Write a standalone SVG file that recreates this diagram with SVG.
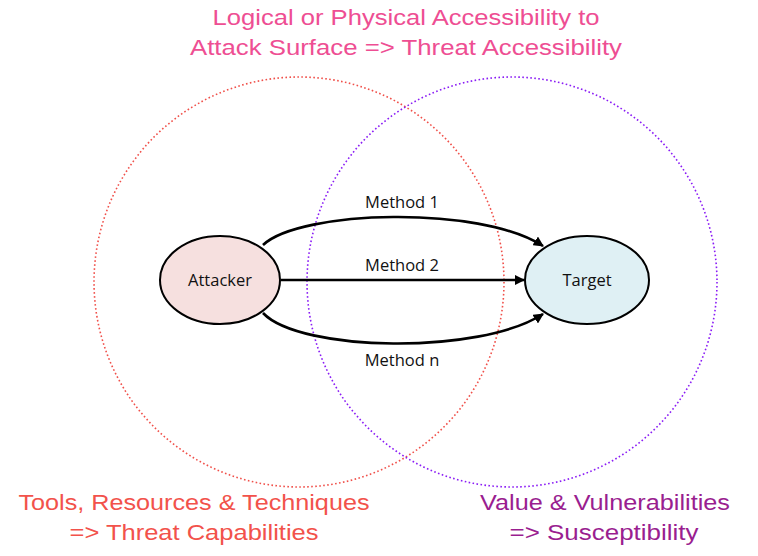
<svg xmlns="http://www.w3.org/2000/svg" width="758" height="556" viewBox="0 0 758 556">
<style>
.circ{fill:none;stroke-width:1.6;stroke-dasharray:1.6 2.4}
.node{stroke:#000;stroke-width:2}
.ntext{font-family:"Open Sans","Liberation Sans",sans-serif;font-size:16.5px;fill:#111;text-anchor:middle}
.edge{fill:none;stroke:#000;stroke-width:2.6}
.big{font-family:"Liberation Sans",Arial,sans-serif;font-size:22px;text-anchor:middle;font-variant-ligatures:none}
</style>
<defs>
<marker id="arr" viewBox="0 0 10 10" refX="9" refY="5" markerWidth="4" markerHeight="4" orient="auto" markerUnits="strokeWidth">
<path d="M0,0 L10,5 L0,10 z" fill="#000"/>
</marker>
</defs>
<rect width="758" height="556" fill="#fff"/>
<g id="circles">
<circle cx="299" cy="282" r="205" class="circ" stroke="#F0504A"/>
<circle cx="512" cy="282" r="205" class="circ" stroke="#8A1CF5"/>
</g>
<g id="connectors">
<path class="edge" d="M263,245 C300,210 480,205 543,246" marker-end="url(#arr)"/>
<path class="edge" d="M281,280 L524,280" marker-end="url(#arr)"/>
<path class="edge" d="M263,313 C300,352 480,355 543,314" marker-end="url(#arr)"/>
</g>
<g id="attacker">
<ellipse cx="220" cy="280" rx="60" ry="44" class="node" fill="#F6E0DF"/>
<text x="220" y="286" class="ntext">Attacker</text>
</g>
<g id="target">
<ellipse cx="587" cy="280" rx="62" ry="44" class="node" fill="#DFF0F4"/>
<text x="587" y="286" class="ntext">Target</text>
</g>
<g id="labels">
<text x="402" y="208" class="ntext">Method 1</text>
<text x="402" y="271" class="ntext">Method 2</text>
<text x="402" y="366" class="ntext">Method n</text>
<text x="406" y="25" class="big" fill="#EE4E93" textLength="387" lengthAdjust="spacingAndGlyphs">Logical or Physical Accessibility to</text>
<text x="406" y="55" class="big" fill="#EE4E93" textLength="432" lengthAdjust="spacingAndGlyphs">Attack Surface =&gt; Threat Accessibility</text>
<text x="194" y="510" class="big" fill="#F2524B" textLength="351" lengthAdjust="spacingAndGlyphs">Tools, Resources &amp; Techniques</text>
<text x="194" y="540" class="big" fill="#F2524B" textLength="249" lengthAdjust="spacingAndGlyphs">=&gt; Threat Capabilities</text>
<text x="605" y="510" class="big" fill="#9A1E90" textLength="250" lengthAdjust="spacingAndGlyphs">Value &amp; Vulnerabilities</text>
<text x="604" y="540" class="big" fill="#9A1E90" textLength="189" lengthAdjust="spacingAndGlyphs">=&gt; Susceptibility</text>
</g>
</svg>
